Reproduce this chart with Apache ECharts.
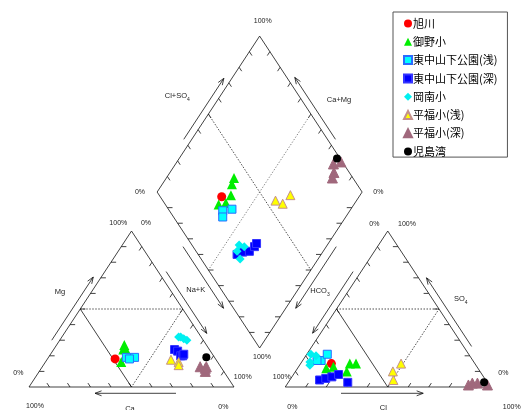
<!DOCTYPE html>
<html>
<head>
<meta charset="utf-8">
<script src="https://cdn.jsdelivr.net/npm/echarts@6/dist/echarts.min.js"></script>
<style>html,body{margin:0;padding:0;background:#fff}#piper{width:524px;height:410px}</style>
</head>
<body>
<div id="piper"></div>
<script>
// sample groups (legend order)
var groups = ['旭川', '御野小', '東中山下公園(浅)', '東中山下公園(深)', '岡南小', '平福小(浅)', '平福小(深)', '児島湾'];
// one entry per sample, percent of meq
var sampleGroup = [0, 1, 1, 1, 1, 1, 2, 2, 2, 3, 3, 3, 3, 3, 4, 4, 4, 4, 5, 5, 5, 6, 6, 6, 6, 7];
var ca   = [49, 40, 41, 41, 47, 42, 43, 39, 42, 17, 16, 16, 15, 14, 11,  9, 10,  8, 22,   19, 20, 10,  7,  9,    8,  4];
var mg   = [18, 27, 25, 22, 16, 24, 19, 19, 18, 24, 23, 20, 20, 21, 32, 31, 32, 30, 17.5, 16, 14, 13, 13, 10,   12, 19];
var naK  = [33, 33, 34, 37, 37, 34, 38, 42, 40, 59, 61, 64, 65, 65, 57, 60, 58, 62, 60.5, 65, 66, 77, 80, 81,   80, 77];
var hco3 = [70, 58, 61, 65, 70, 74, 74, 69, 76, 81, 77.5, 74, 70, 68, 77, 75, 80, 81, 45, 42.5, 36, 5, 7.5, 10, 0.7, 1.5];
var cl   = [15, 27, 24, 25, 17, 14,  9, 10,  7, 14.5, 17, 19.5, 22, 29, 2, 5, 4, 5, 50.5, 47.5, 49, 92.5, 90, 88.7, 98, 95.5];
var so4  = [15, 15, 15, 10, 13, 12, 17, 21, 17, 4.5, 5.5, 6.5, 8, 3, 21, 20, 16, 14, 4.5, 10, 15, 2.5, 2.5, 1.3, 1.3, 3];
var tickPct = [10, 20, 30, 40, 50, 60, 70, 80, 90];
var pctLabels = ['0%', '100%'];

var styles = [
  {symbol: 'circle',   size: 9,  color: '#ff0000'},
  {symbol: 'triangle', size: 10, color: '#00ee00'},
  {symbol: 'rect',     size: 8,  color: '#00ffff', border: '#2a6bff'},
  {symbol: 'rect',     size: 8,  color: '#0000ff', border: '#3535ff'},
  {symbol: 'diamond',  size: 9,  color: '#00f0f0'},
  {symbol: 'triangle', size: 9,  color: '#ffff00', border: '#c4908c'},
  {symbol: 'triangle', size: 10, color: '#a0687c', border: '#a0687c'},
  {symbol: 'circle',   size: 8,  color: '#000000'}
];

// pixel frame of the drawing
var X0 = 29, SX = 205, Y0 = 387, SY = 180.1, W = 524, HT = 410;
var H = Math.sqrt(3) / 2, GAP = 0.25;
function toPx(p) { return [X0 + p[0] * SX, Y0 - p[1] * SY]; }
function toData(q) { return [(q[0] - X0) / SX, (Y0 - q[1]) / SY]; }
function lerp(a, b, f) { return [a[0] + (b[0] - a[0]) * f, a[1] + (b[1] - a[1]) * f]; }

// triangle / diamond corners
var A0 = [0, 0], A1 = [1, 0], A2 = [0.5, H];
var ox = 1 + GAP;
var N0 = [ox, 0], N1 = [ox + 1, 0], N2 = [ox + 0.5, H];
var B = [1 + GAP / 2, GAP * H], L = [0.5 + GAP / 2, GAP * H + H], R = [1.5 + GAP / 2, GAP * H + H], T = [1 + GAP / 2, GAP * H + 2 * H];

function cationXY(i) {
  var s = ca[i] + mg[i] + naK[i], m = mg[i] / s, n = naK[i] / s;
  return [n + m / 2, m * H];
}
function anionXY(i) {
  var s = hco3[i] + cl[i] + so4[i], c = cl[i] / s, o = so4[i] / s;
  return [ox + c + o / 2, o * H];
}
function diamondXY(i) {
  var cm = (ca[i] + mg[i]) / (ca[i] + mg[i] + naK[i]);
  var cs = (cl[i] + so4[i]) / (hco3[i] + cl[i] + so4[i]);
  return [B[0] + 0.5 * (cs - cm), B[1] + H * (cs + cm)];
}

// frame lines
var solid = [], dotDark = [], dotLight = [];
solid.push({coords: [A0, A1, A2, A0]});
solid.push({coords: [N0, N1, N2, N0]});
solid.push({coords: [B, R, T, L, B]});
solid.push({coords: [lerp(A0, A2, 0.5), lerp(A0, A1, 0.5)]});
solid.push({coords: [lerp(N0, N2, 0.5), lerp(N0, N1, 0.5)]});
dotDark.push({coords: [lerp(A0, A2, 0.5), lerp(A1, A2, 0.5), lerp(A0, A1, 0.5)]});
dotDark.push({coords: [lerp(N0, N2, 0.5), lerp(N1, N2, 0.5), lerp(N0, N1, 0.5)]});
dotDark.push({coords: [lerp(L, T, 0.5), lerp(B, R, 0.5)]});
dotLight.push({coords: [lerp(R, T, 0.5), lerp(B, L, 0.5)]});

var TL = 0.025;
var tickSides = [
  [A0, A1, [-0.5, H]], [A0, A2, [1, 0]], [A1, A2, [-0.5, -H]],
  [N0, N1, [0.5, H]], [N0, N2, [0.5, -H]], [N1, N2, [-1, 0]],
  [L, T, [0.5, -H]], [R, T, [-0.5, -H]], [B, L, [1, 0]], [B, R, [-1, 0]]
];
tickSides.forEach(function (sd) {
  tickPct.forEach(function (k) {
    var p = lerp(sd[0], sd[1], k / 100);
    solid.push({coords: [p, [p[0] + TL * sd[2][0], p[1] + TL * sd[2][1]]]});
  });
});

// arrows beside the sides: [from, to, startFrac, endFrac, shift px]
var arrows = [
  [A0, A2, 0.30, 0.705, [-8, 0]],
  [A2, A1, 0.26, 0.656, [8, 0]],
  [A1, A0, 0.283, 0.678, [0, 6.3]],
  [N2, N0, 0.26, 0.655, [-8, 0]],
  [N1, N2, 0.26, 0.70, [8, 0]],
  [N0, N1, 0.272, 0.673, [0, 6.3]],
  [L, T, 0.338, 0.729, [-8, 0]],
  [R, T, 0.338, 0.735, [8, 0]],
  [L, B, 0.35, 0.745, [-10, 0]],
  [R, B, 0.35, 0.745, [10, 0]]
];
arrows.forEach(function (a) {
  var p = toPx(lerp(a[0], a[1], a[2])), q = toPx(lerp(a[0], a[1], a[3]));
  p = [p[0] + a[4][0], p[1] + a[4][1]];
  q = [q[0] + a[4][0], q[1] + a[4][1]];
  var ang = Math.atan2(p[1] - q[1], p[0] - q[0]), hl = 7, ha = 0.36;
  var w1 = [q[0] + hl * Math.cos(ang + ha), q[1] + hl * Math.sin(ang + ha)];
  var w2 = [q[0] + hl * Math.cos(ang - ha), q[1] + hl * Math.sin(ang - ha)];
  solid.push({coords: [toData(p), toData(q)]});
  solid.push({coords: [toData(w1), toData(q), toData(w2)]});
});

function lineSeries(data, dash, color) {
  return {
    type: 'lines', coordinateSystem: 'cartesian2d', polyline: true, silent: true, z: 1,
    lineStyle: {color: color, width: 0.8, opacity: 1, type: dash}, data: data
  };
}

var series = [
  lineSeries(solid, 'solid', '#111'),
  lineSeries(dotDark, [1.5, 1.5], '#222'),
  lineSeries(dotLight, [1.2, 1.8], '#555')
];
groups.forEach(function (g, gi) {
  var pts = [];
  sampleGroup.forEach(function (sg, i) {
    if (sg !== gi) return;
    pts.push(cationXY(i), anionXY(i), diamondXY(i));
  });
  var st = styles[gi];
  series.push({
    name: g, type: 'scatter', z: 3, symbol: st.symbol, symbolSize: st.size,
    itemStyle: {color: st.color, opacity: 1, borderColor: st.border || st.color, borderWidth: st.border ? 1 : 0},
    data: pts
  });
});

// axis texts
var font = 'Liberation Sans';
function txt(s, x, y, rich) {
  return {
    type: 'text', x: x, y: y, silent: true,
    style: {text: s, fontFamily: font, fontSize: 7, fill: '#222', align: 'center', verticalAlign: 'middle', rich: rich}
  };
}
var subRich = {
  n: {fontFamily: font, fontSize: 7.5, fill: '#222', verticalAlign: 'bottom', padding: [0, 0, 2, 0]},
  s: {fontFamily: font, fontSize: 5, fill: '#222', verticalAlign: 'bottom'}
};
var graphics = [
  txt(pctLabels[1], 118.3, 223.3), txt(pctLabels[0], 146, 222.7), txt(pctLabels[0], 18.3, 373.3),
  txt(pctLabels[1], 35, 405.7), txt(pctLabels[0], 223.3, 406.7), txt(pctLabels[1], 242.7, 376.7),
  txt(pctLabels[0], 374.3, 224), txt(pctLabels[1], 407, 224), txt(pctLabels[1], 281.7, 376.7),
  txt(pctLabels[0], 292.3, 406.7), txt(pctLabels[1], 511.7, 406.7), txt(pctLabels[0], 503.3, 372.7),
  txt(pctLabels[1], 262.7, 21), txt(pctLabels[0], 140, 192), txt(pctLabels[0], 378.3, 192.3), txt(pctLabels[1], 262, 357),
  txt('{n|Mg}', 60, 293, subRich), txt('{n|Na+K}', 195.7, 291, subRich), txt('{n|Ca}', 130, 410, subRich),
  txt('{n|HCO}{s|3}', 320, 291.7, subRich), txt('{n|SO}{s|4}', 460.7, 300, subRich), txt('{n|Cl}', 383.3, 409, subRich),
  txt('{n|Cl+SO}{s|4}', 177.3, 97.3, subRich), txt('{n|Ca+Mg}', 339, 100.7, subRich)
];

var chart = echarts.init(document.getElementById('piper'), null, {renderer: 'canvas'});
chart.setOption({
  animation: false,
  backgroundColor: '#fff',
  grid: {left: 0, right: 0, top: 0, bottom: 0},
  xAxis: {type: 'value', show: false, min: -X0 / SX, max: (W - X0) / SX},
  yAxis: {type: 'value', show: false, min: -(HT - Y0) / SY, max: Y0 / SY},
  legend: {
    orient: 'vertical', left: 393, top: 12, itemWidth: 8, itemHeight: 8, itemGap: 7.3,
    padding: [6, 10, 0, 10], borderColor: '#555', borderWidth: 1, backgroundColor: '#fff',
    textStyle: {fontFamily: 'Noto Sans CJK JP', fontSize: 11, lineHeight: 11, color: '#000', padding: [0, 0, 0, -4]},
    data: groups
  },
  graphic: graphics,
  series: series
});
window.addEventListener('resize', chart.resize);
</script>
</body>
</html>
